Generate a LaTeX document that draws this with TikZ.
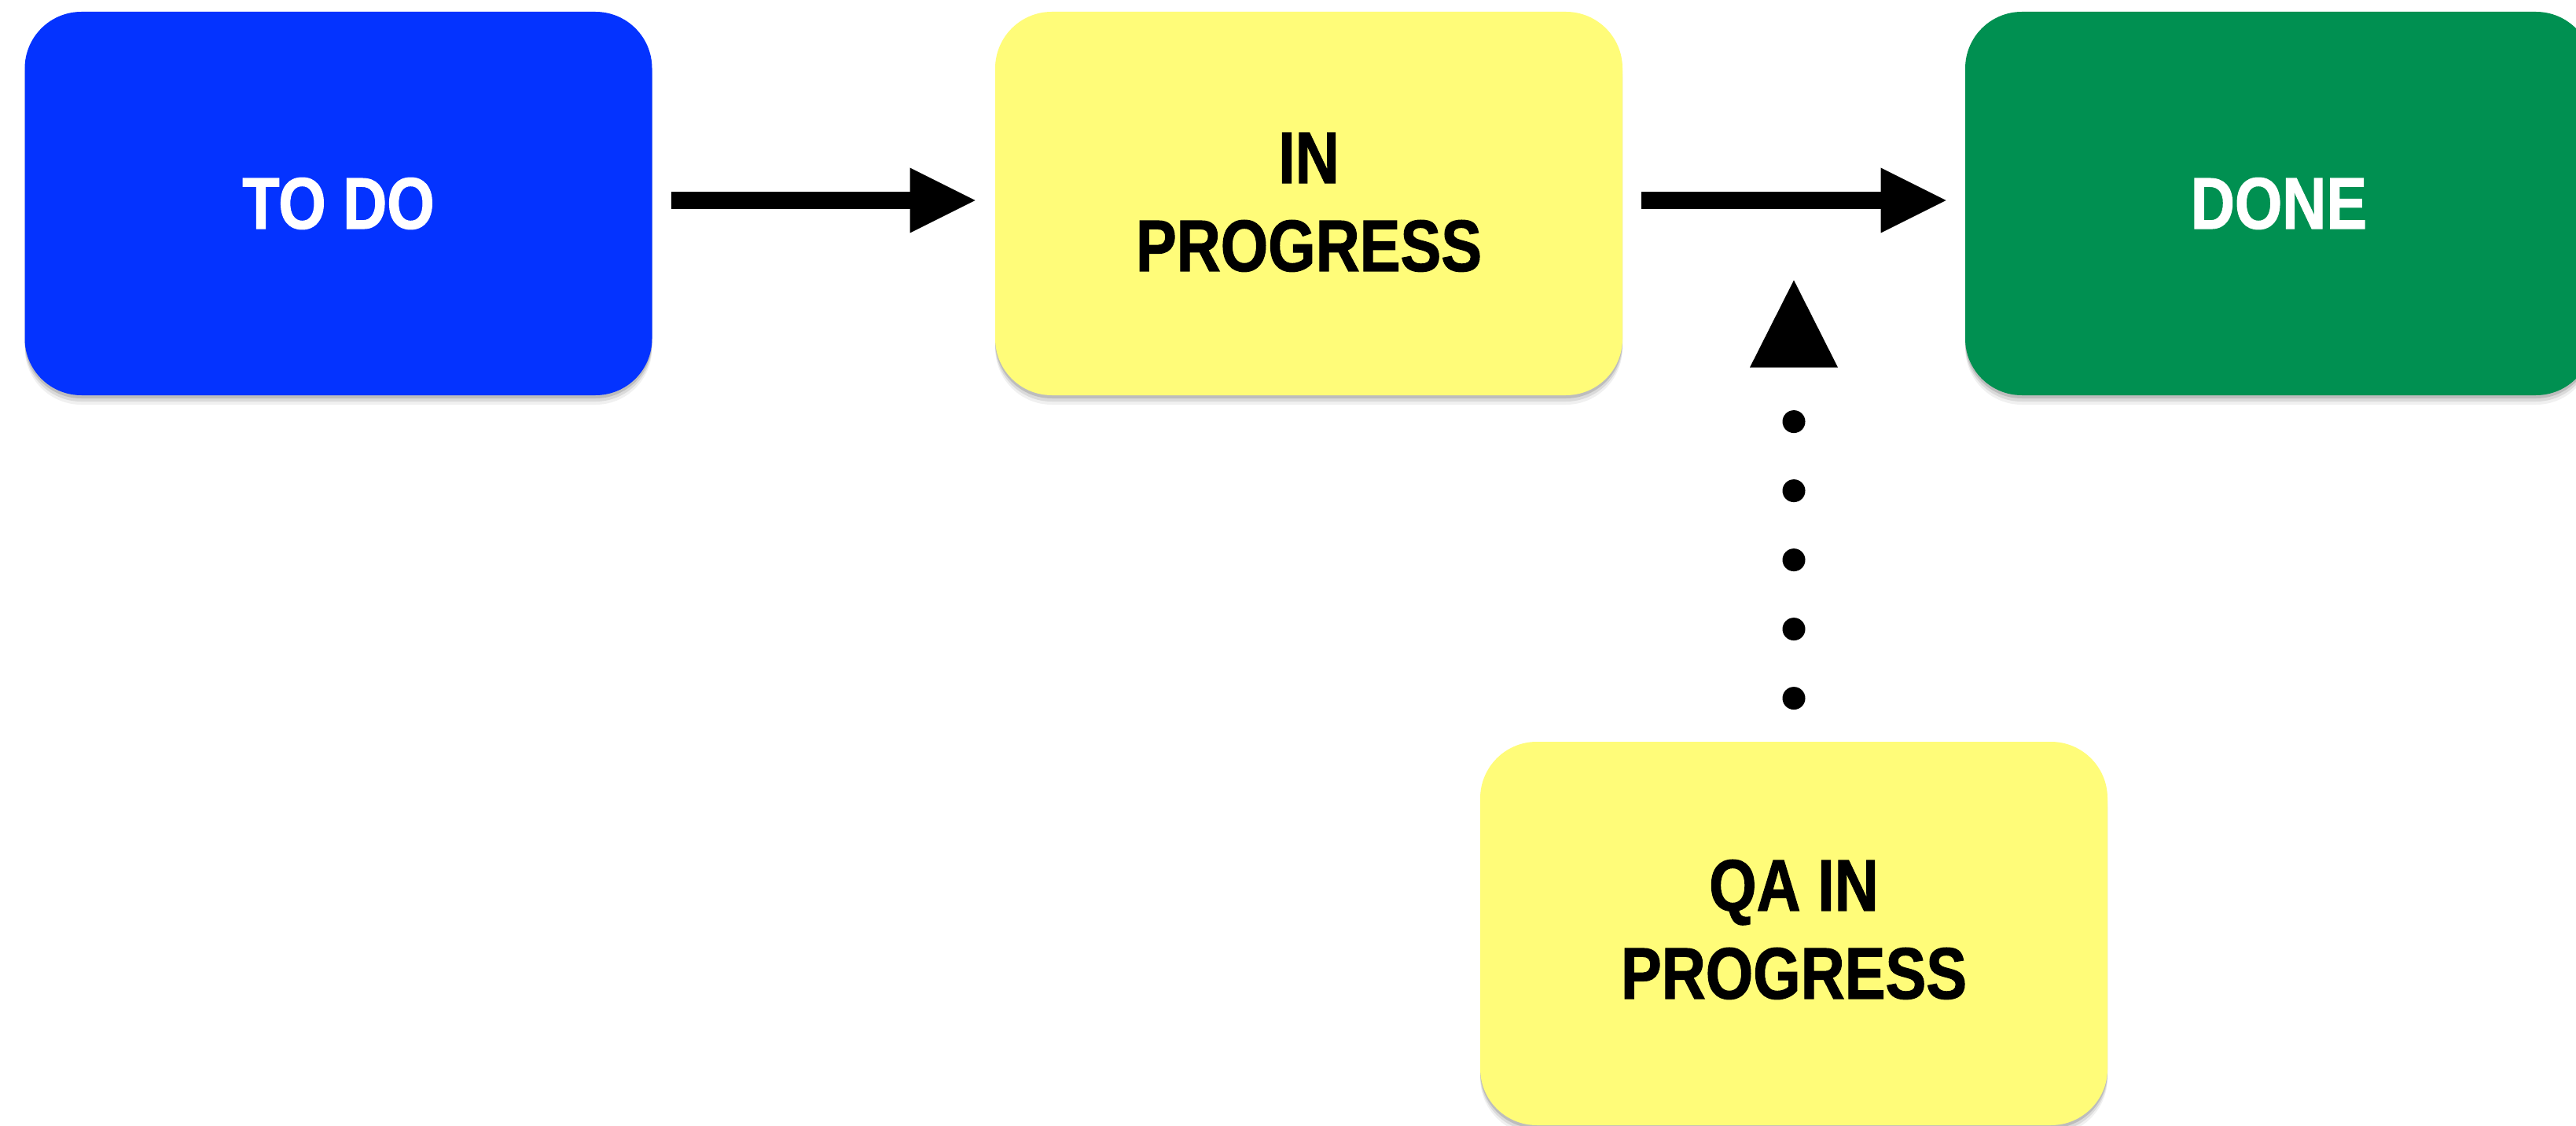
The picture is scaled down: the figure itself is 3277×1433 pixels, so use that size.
\documentclass[tikz,border=0pt]{standalone}
\usepackage{fontspec}
\newfontfamily\boxfont{Liberation Sans}[FakeStretch=0.835,FakeBold=1.2]
\usetikzlibrary{shadows,arrows.meta}
\definecolor{todoblue}{HTML}{0433FF}
\definecolor{wipyellow}{HTML}{FFFC79}
\definecolor{donegreen}{HTML}{009051}
\begin{document}
\begin{tikzpicture}[x=0.5pt,y=-0.5pt,
  card/.style={rounded corners=36pt, minimum width=399pt, minimum height=244pt,
    inner sep=0pt, align=center,
    font=\boxfont\bfseries\fontsize{46.5pt}{56pt}\selectfont,
    drop shadow={shadow xshift=0pt, shadow yshift=-6pt, opacity=.06, fill=black},
    drop shadow={shadow xshift=0pt, shadow yshift=-4pt, opacity=.09, fill=black},
    drop shadow={shadow xshift=0pt, shadow yshift=-2pt, opacity=.13, fill=black}},
  flow/.style={line width=11pt, -{Triangle[length=41.5pt,width=41.5pt,line width=0pt]}},
  dotline/.style={line width=14.5pt, line cap=round, dash pattern=on 0pt off 44pt, dash phase=16.5pt}]
\useasboundingbox (0,0) rectangle (3277,1433);
\fill[white] (0,0) rectangle (3277,1433);

\node[card, fill=todoblue, text=white] (todo) at (430.5,259) {TO DO};
\node[card, fill=wipyellow, text=black] (inprog) at (1665,259) {IN\\PROGRESS\rule[-2pt]{0pt}{0pt}};
\node[card, fill=donegreen, text=white] (done) at (2899,259) {DONE};
\node[card, fill=wipyellow, text=black] (qa) at (2282,1188) {QA IN\\PROGRESS\rule[-5.5pt]{0pt}{0pt}};

\draw[flow] ([xshift=12pt,yshift=2pt]todo.east) -- ([xshift=-12.5pt,yshift=2pt]inprog.west);
\draw[flow] ([xshift=12pt,yshift=2pt]inprog.east) -- ([xshift=-12pt,yshift=2pt]done.west);

\coordinate (qtip) at ([yshift=293.5pt]qa.north);
\draw[dotline] (qa.north) -- ([yshift=222pt]qa.north);
\fill (qtip) -- ++(-28pt,-55.5pt) -- ++(56pt,0pt) -- cycle;
\end{tikzpicture}
\end{document}
